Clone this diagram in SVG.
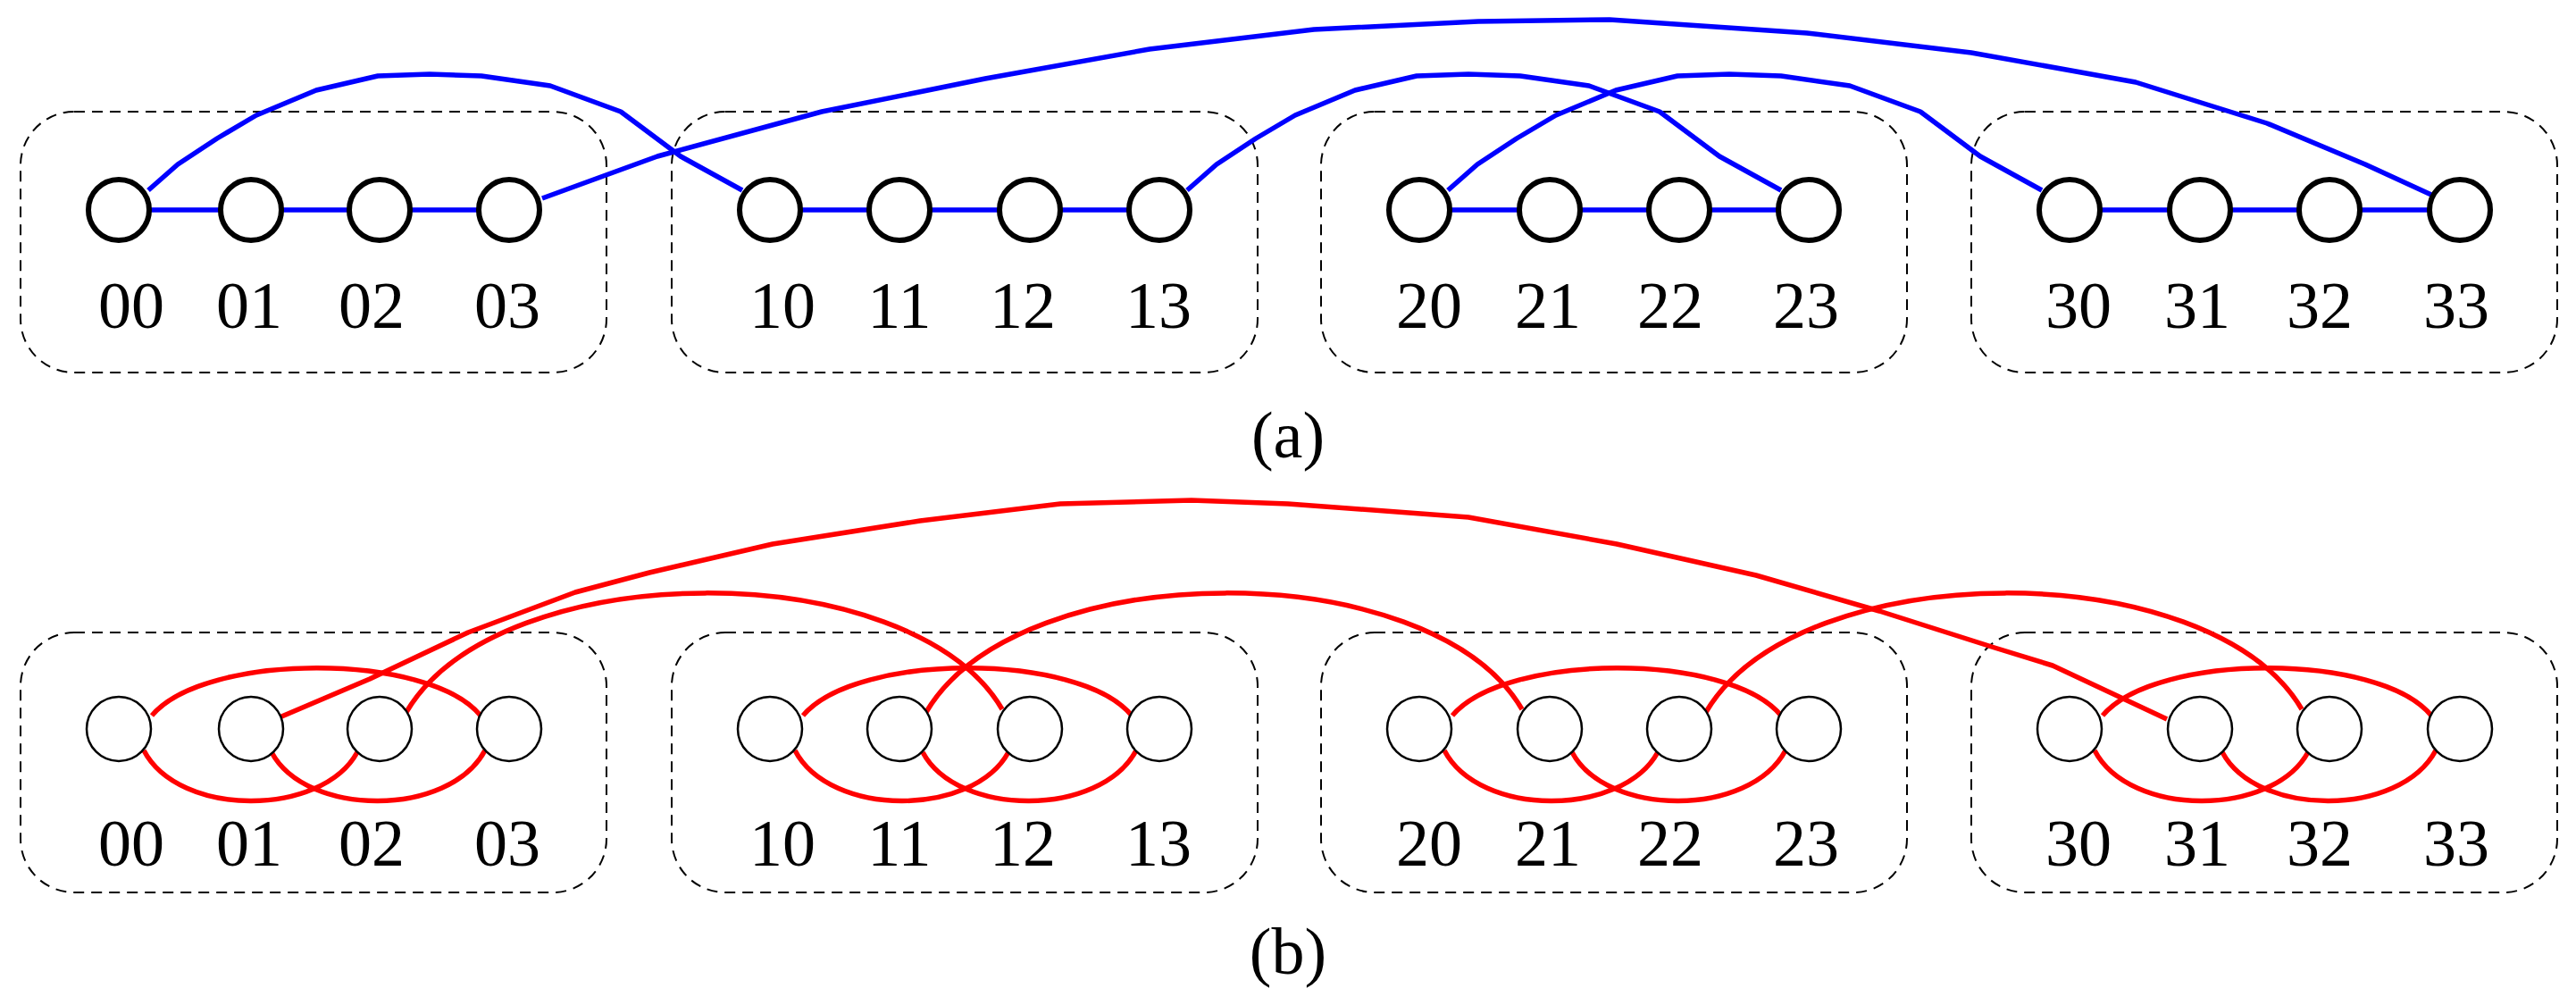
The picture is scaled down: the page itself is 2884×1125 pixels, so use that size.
<svg xmlns="http://www.w3.org/2000/svg" width="2884" height="1125" viewBox="0 0 2884 1125">
<style>
.box{fill:none;stroke:#000;stroke-width:2;stroke-dasharray:12 8}
.na{fill:#fff;stroke:#000;stroke-width:6}
.nb{fill:#fff;stroke:#000;stroke-width:2.5}
.lbl{font-family:"Liberation Serif",serif;font-size:74px;text-anchor:middle;fill:#000}
.blue{fill:none;stroke:#0000ff;stroke-width:5.5;stroke-linejoin:round}
.red{fill:none;stroke:#ff0000;stroke-width:5.5;stroke-linejoin:round}
</style>
<defs>
<path id="barc" class="blue" d="M166,213 L199,184 L243,155 L287,129 L354,101 L423,85 L481,83 L539,85 L616,96 L695,125 L762,175 L831,213"/>
</defs>
<rect width="2884" height="1125" fill="#fff"/>
<g id="boxes">
<rect class="box" x="23" y="125" width="656" height="292" rx="60" ry="60"/>
<rect class="box" x="752" y="125" width="656" height="292" rx="60" ry="60"/>
<rect class="box" x="1479" y="125" width="656" height="292" rx="60" ry="60"/>
<rect class="box" x="2207" y="125" width="656" height="292" rx="60" ry="60"/>
<rect class="box" x="23" y="708" width="656" height="291" rx="60" ry="60"/>
<rect class="box" x="752" y="708" width="656" height="291" rx="60" ry="60"/>
<rect class="box" x="1479" y="708" width="656" height="291" rx="60" ry="60"/>
<rect class="box" x="2207" y="708" width="656" height="291" rx="60" ry="60"/>
</g>
<g id="connectors">
<path class="blue" d="M133,235H570M862,235H1298M1589,235H2025M2317,235H2754"/>
<use href="#barc"/>
<use href="#barc" x="1163"/>
<use href="#barc" x="1455"/>
<path class="blue" d="M607,222 L736,175 L920,125 L1103,88 L1287,55 L1471,33 L1655,24 L1802,22 L2023,37 L2207,59 L2391,92 L2538,138 L2648,184 L2722,218"/>
<path class="red" d="M170,801 C230,730 480,730 538,801 M161,840 C200,915 360,915 400,842 M304,842 C343,915 503,915 543,840"/>
<path class="red" d="M899,801 C959,730 1209,730 1267,801 M890,840 C929,915 1089,915 1129,842 M1033,842 C1072,915 1232,915 1272,840"/>
<path class="red" d="M1626,801 C1686,730 1936,730 1994,801 M1617,840 C1656,915 1816,915 1856,842 M1760,842 C1799,915 1959,915 1999,840"/>
<path class="red" d="M2354,801 C2414,730 2664,730 2722,801 M2345,840 C2384,915 2544,915 2584,842 M2488,842 C2527,915 2687,915 2727,840"/>
<path class="red" d="M455,797 C560,620 1020,620 1122,794"/>
<path class="red" d="M1037,797 C1142,620 1602,620 1704,794"/>
<path class="red" d="M1910,797 C2015,620 2475,620 2577,794"/>
<path class="red" d="M313,803 L414,760 L524,708 L644,663 L727,641 L865,609 L1030,583 L1187,564 L1334,560 L1442,564 L1644,579 L1810,609 L1966,644 L2104,684 L2233,725 L2298,745 L2426,805"/>
</g>
<g id="nodes-a">
<g id="a00"><circle class="na" cx="133" cy="235" r="34"/><text class="lbl" x="147" y="367">00</text></g>
<g id="a01"><circle class="na" cx="281" cy="235" r="34"/><text class="lbl" x="279" y="367">01</text></g>
<g id="a02"><circle class="na" cx="425" cy="235" r="34"/><text class="lbl" x="416" y="367">02</text></g>
<g id="a03"><circle class="na" cx="570" cy="235" r="34"/><text class="lbl" x="568" y="367">03</text></g>
<g id="a10"><circle class="na" cx="862" cy="235" r="34"/><text class="lbl" x="876" y="367">10</text></g>
<g id="a11"><circle class="na" cx="1007" cy="235" r="34"/><text class="lbl" x="1007" y="367">11</text></g>
<g id="a12"><circle class="na" cx="1153" cy="235" r="34"/><text class="lbl" x="1145" y="367">12</text></g>
<g id="a13"><circle class="na" cx="1298" cy="235" r="34"/><text class="lbl" x="1297" y="367">13</text></g>
<g id="a20"><circle class="na" cx="1589" cy="235" r="34"/><text class="lbl" x="1600" y="367">20</text></g>
<g id="a21"><circle class="na" cx="1735" cy="235" r="34"/><text class="lbl" x="1733" y="367">21</text></g>
<g id="a22"><circle class="na" cx="1880" cy="235" r="34"/><text class="lbl" x="1870" y="367">22</text></g>
<g id="a23"><circle class="na" cx="2025" cy="235" r="34"/><text class="lbl" x="2022" y="367">23</text></g>
<g id="a30"><circle class="na" cx="2317" cy="235" r="34"/><text class="lbl" x="2327" y="367">30</text></g>
<g id="a31"><circle class="na" cx="2463" cy="235" r="34"/><text class="lbl" x="2460" y="367">31</text></g>
<g id="a32"><circle class="na" cx="2608" cy="235" r="34"/><text class="lbl" x="2597" y="367">32</text></g>
<g id="a33"><circle class="na" cx="2754" cy="235" r="34"/><text class="lbl" x="2750" y="367">33</text></g>
</g>
<g id="nodes-b">
<g id="b00"><circle class="nb" cx="133" cy="816" r="36"/><text class="lbl" x="147" y="969">00</text></g>
<g id="b01"><circle class="nb" cx="281" cy="816" r="36"/><text class="lbl" x="279" y="969">01</text></g>
<g id="b02"><circle class="nb" cx="425" cy="816" r="36"/><text class="lbl" x="416" y="969">02</text></g>
<g id="b03"><circle class="nb" cx="570" cy="816" r="36"/><text class="lbl" x="568" y="969">03</text></g>
<g id="b10"><circle class="nb" cx="862" cy="816" r="36"/><text class="lbl" x="876" y="969">10</text></g>
<g id="b11"><circle class="nb" cx="1007" cy="816" r="36"/><text class="lbl" x="1007" y="969">11</text></g>
<g id="b12"><circle class="nb" cx="1153" cy="816" r="36"/><text class="lbl" x="1145" y="969">12</text></g>
<g id="b13"><circle class="nb" cx="1298" cy="816" r="36"/><text class="lbl" x="1297" y="969">13</text></g>
<g id="b20"><circle class="nb" cx="1589" cy="816" r="36"/><text class="lbl" x="1600" y="969">20</text></g>
<g id="b21"><circle class="nb" cx="1735" cy="816" r="36"/><text class="lbl" x="1733" y="969">21</text></g>
<g id="b22"><circle class="nb" cx="1880" cy="816" r="36"/><text class="lbl" x="1870" y="969">22</text></g>
<g id="b23"><circle class="nb" cx="2025" cy="816" r="36"/><text class="lbl" x="2022" y="969">23</text></g>
<g id="b30"><circle class="nb" cx="2317" cy="816" r="36"/><text class="lbl" x="2327" y="969">30</text></g>
<g id="b31"><circle class="nb" cx="2463" cy="816" r="36"/><text class="lbl" x="2460" y="969">31</text></g>
<g id="b32"><circle class="nb" cx="2608" cy="816" r="36"/><text class="lbl" x="2597" y="969">32</text></g>
<g id="b33"><circle class="nb" cx="2754" cy="816" r="36"/><text class="lbl" x="2750" y="969">33</text></g>
</g>
<text class="lbl" x="1442" y="512">(a)</text>
<text class="lbl" x="1442" y="1090">(b)</text>
</svg>
